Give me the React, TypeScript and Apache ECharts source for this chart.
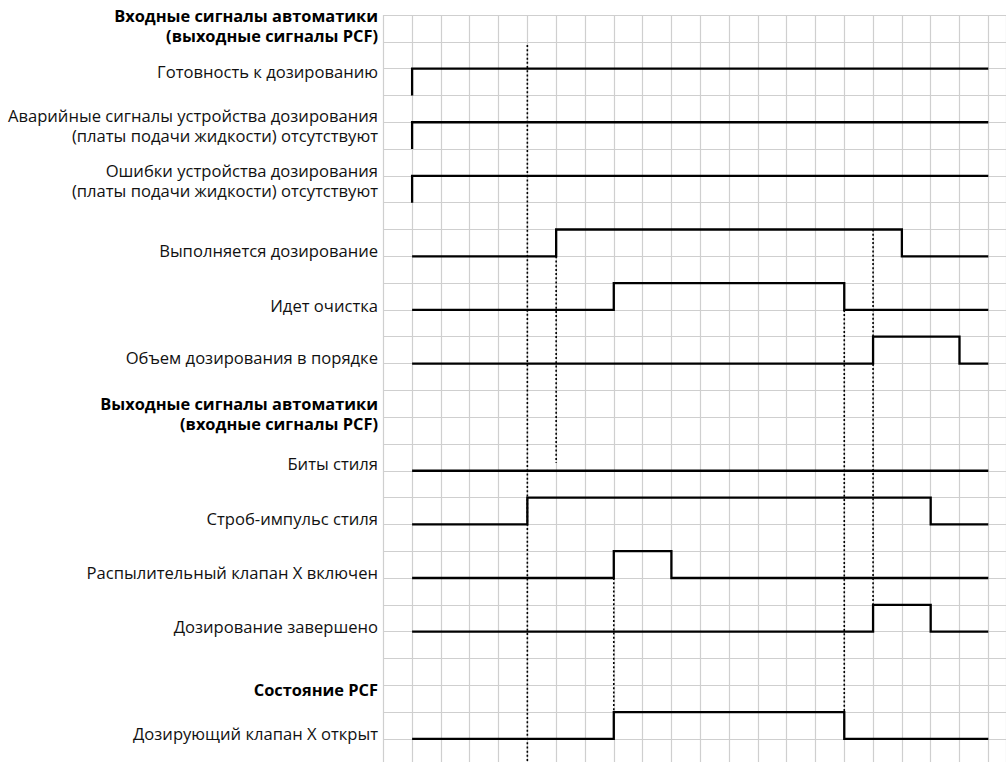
import React, { useEffect, useRef } from "react";
import * as echarts from "echarts";

// ---- Data ----
const signalNames = [
  "Готовность к дозированию",
  "Аварийные сигналы устройства дозирования\n(платы подачи жидкости) отсутствуют",
  "Ошибки устройства дозирования\n(платы подачи жидкости) отсутствуют",
  "Выполняется дозирование",
  "Идет очистка",
  "Объем дозирования в порядке",
  "Биты стиля",
  "Строб-импульс стиля",
  "Распылительный клапан X включен",
  "Дозирование завершено",
  "Дозирующий клапан X открыт",
];
// row index (grid line) of the low level of each signal
const signalLowRows = [3, 5, 7, 9, 11, 13, 17, 19, 21, 23, 27];
// time step (grid column) where the signal rises / falls (null = never)
const riseAt: (number | null)[] = [1, 1, 1, 6, 8, 17, null, 5, 8, 17, 8];
const fallAt: (number | null)[] = [null, null, null, 18, 16, 20, null, 19, 10, 19, 16];
const startCol = 1;
const endCol = 21;

const headerNames = [
  "Входные сигналы автоматики\n(выходные сигналы PCF)",
  "Выходные сигналы автоматики\n(входные сигналы PCF)",
  "Состояние PCF",
];

// dotted reference lines: column, from row, to row
const markerCols = [5, 6, 8, 16, 17];
const markerFromRow = [1.12, 9, 21, 11, 8];
const markerToRow = [27.9, 16.7, 26, 26, 22];

// ---- Layout ----
const W = 1006;
const H = 762;
const GRID_LEFT = 383.3;
const GRID_TOP = 15;
const COL_W = 28.81;
const ROW_H = 26.81;
const X_MAX = (W - GRID_LEFT) / COL_W;
const Y_MAX = (H - GRID_TOP) / ROW_H;
const LABEL_X = 378;
const signalLabelY = [71, 125, 180, 250, 305, 357, 463, 518, 572, 626, 733];
const headerLabelY = [25, 413, 689];

function buildSignal(i: number): number[][] {
  const low = signalLowRows[i];
  const high = low - 1;
  const r = riseAt[i];
  const f = fallAt[i];
  const pts: number[][] = [];
  if (r === null) {
    pts.push([startCol, low], [endCol, low]);
    return pts;
  }
  pts.push([startCol, low], [r, low], [r, high]);
  if (f === null) {
    pts.push([endCol, high]);
  } else {
    pts.push([f, high], [f, low], [endCol, low]);
  }
  return pts;
}

const FONT = "'Open Sans', 'Noto Sans', sans-serif";
const FONT_SIZE = 16.6;
const BOLD_SIZE = 16.4;

export default function App() {
  const ref = useRef<HTMLDivElement>(null);
  useEffect(() => {
    if (!ref.current) return;
    const chart = echarts.init(ref.current, undefined, { renderer: "svg" });
    const series: any[] = [];
    signalNames.forEach((name, i) => {
      series.push({
        type: "line",
        name,
        data: buildSignal(i),
        symbol: "none",
        silent: true,
        lineStyle: { color: "#000", width: 2.3, join: "miter" },
        z: 5,
      });
    });
    markerCols.forEach((c, i) => {
      series.push({
        type: "line",
        data: [
          [c, markerFromRow[i]],
          [c, markerToRow[i]],
        ],
        symbol: "none",
        silent: true,
        lineStyle: { color: "#000", width: 1.6, type: [2, 2.2] },
        z: 4,
      });
    });

    const graphics: any[] = [];
    signalNames.forEach((name, i) => {
      graphics.push({
        type: "text",
        x: LABEL_X,
        y: signalLabelY[i],
        style: {
          text: name,
          align: "right",
          verticalAlign: "middle",
          font: `${FONT_SIZE}px ${FONT}`,
          lineHeight: 20,
          fill: "#111",
        },
      });
    });
    headerNames.forEach((name, i) => {
      graphics.push({
        type: "text",
        x: LABEL_X,
        y: headerLabelY[i],
        style: {
          text: name,
          align: "right",
          verticalAlign: "middle",
          font: `bold ${BOLD_SIZE}px ${FONT}`,
          lineHeight: 20,
          fill: "#000",
        },
      });
    });

    chart.setOption({
      animation: false,
      backgroundColor: "#fff",
      grid: {
        left: GRID_LEFT,
        top: GRID_TOP,
        right: 0,
        bottom: 0,
        containLabel: false,
      },
      xAxis: {
        type: "value",
        min: 0,
        max: X_MAX,
        interval: 1,
        axisLine: { show: false },
        axisTick: { show: false },
        axisLabel: { show: false },
        splitLine: { show: true, lineStyle: { color: "#cfcfcf", width: 1.2 } },
      },
      yAxis: {
        type: "value",
        inverse: true,
        min: 0,
        max: Y_MAX,
        interval: 1,
        axisLine: { show: false },
        axisTick: { show: false },
        axisLabel: { show: false },
        splitLine: { show: true, lineStyle: { color: "#cfcfcf", width: 1.2 } },
      },
      series,
      graphic: graphics,
    });
    return () => chart.dispose();
  }, []);
  return (
    <div
      ref={ref}
      style={{ position: "fixed", left: 0, top: 0, width: W, height: H, background: "#fff" }}
    />
  );
}
